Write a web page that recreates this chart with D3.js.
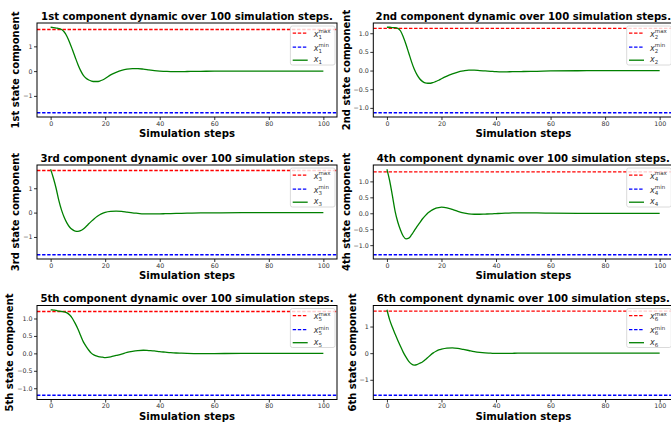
<!DOCTYPE html>
<html><head><meta charset="utf-8">
<script src="https://cdn.jsdelivr.net/npm/d3@7"></script>
<style>body{margin:0;background:#fff;overflow:hidden} svg{display:block}</style>
</head><body><svg id="c" width="671" height="424"></svg>
<script>
// ---------- data ----------
const steps = [0,1,2,3,4,5,6,7,8,9,10,11,12,13,14,15,16,17,18,19,20,
  22,24,26,28,30,32,34,36,38,40,42,44,46,48,50,55,60,70,80,90,100];
const x1 = [1.77,1.76,1.74,1.72,1.68,1.58,1.40,1.15,0.86,0.56,0.27,0.02,-0.17,-0.29,-0.36,-0.40,-0.42,-0.42,-0.40,-0.36,-0.30,
  -0.15,-0.05,0.03,0.08,0.10,0.10,0.08,0.05,0.02,0.00,-0.01,-0.02,-0.02,-0.02,-0.015,-0.01,0,0,0,0,0];
const x2 = [1.16,1.16,1.15,1.15,1.13,1.06,0.90,0.70,0.47,0.24,0.04,-0.11,-0.22,-0.29,-0.33,-0.34,-0.34,-0.32,-0.29,-0.26,-0.22,
  -0.15,-0.09,-0.04,-0.01,0.01,0.01,0.0,-0.01,-0.02,-0.03,-0.035,-0.035,-0.03,-0.03,-0.025,-0.02,-0.01,-0.005,0,0,0];
const x3 = [1.78,1.42,1.00,0.50,0.10,-0.20,-0.43,-0.60,-0.70,-0.76,-0.77,-0.74,-0.67,-0.57,-0.46,-0.35,-0.25,-0.16,-0.09,-0.03,0.01,
  0.05,0.06,0.05,0.02,-0.01,-0.03,-0.05,-0.05,-0.05,-0.05,-0.045,-0.04,-0.035,-0.03,-0.025,-0.015,-0.01,0,0,0,0];
const x4 = [1.38,1.02,0.55,0.06,-0.28,-0.53,-0.72,-0.80,-0.78,-0.68,-0.55,-0.42,-0.30,-0.18,-0.08,0.01,0.07,0.12,0.16,0.18,0.19,
  0.17,0.12,0.06,0.01,-0.02,-0.03,-0.03,-0.025,-0.02,-0.01,0.0,0.005,0.01,0.01,0.01,0.01,0.005,0,0,0,0];
const x5 = [1.25,1.24,1.23,1.21,1.20,1.19,1.16,1.10,1.00,0.86,0.70,0.51,0.33,0.20,0.09,0.0,-0.05,-0.08,-0.10,-0.11,-0.12,
  -0.10,-0.06,-0.02,0.03,0.06,0.08,0.09,0.08,0.07,0.05,0.035,0.02,0.01,0.005,0.0,-0.005,-0.005,0,0,0,0];
const x6 = [1.63,1.25,0.97,0.72,0.48,0.25,0.03,-0.15,-0.31,-0.41,-0.45,-0.43,-0.38,-0.33,-0.25,-0.16,-0.07,0.01,0.07,0.12,0.15,
  0.19,0.20,0.18,0.14,0.10,0.06,0.03,0.01,0.0,-0.01,-0.01,-0.01,-0.005,0,0,0,0,0,0,0,0];
const series = [x1,x2,x3,x4,x5,x6];
const upperBounds = [1.68,1.13,1.73,1.30,1.20,1.58];
const ordinals = ["1st","2nd","3rd","4th","5th","6th"];
const xTicks = [0,20,40,60,80,100];
const yTicksInt = [-1,0,1];
const yTicksHalf = [-1,-0.5,0,0.5,1];
const yTickSets = [yTicksInt,yTicksHalf,yTicksInt,yTicksHalf,yTicksHalf,yTicksInt];
const yTickFormats = ["d",".1f","d",".1f",".1f","d"];

// ---------- layout ----------
const lefts = [37,373.3], tops = [23,165,305.5], W = 300, H = 94;
const FONT = "DejaVu Sans";
const svg = d3.select("#c");

function fitSize(text, weight, target){
  const t = svg.append("text").attr("font-family",FONT).attr("font-weight",weight)
    .attr("font-size",10).text(text);
  const w = t.node().getComputedTextLength(); t.remove();
  return 10*target/w;
}
const titleSize = fitSize("1st component dynamic over 100 simulation steps.","bold",292);
const xlabSize = fitSize("Simulation steps","bold",96);
const ylabSize = fitSize("1st state component","bold",117);
const LW = 1.3, DASH = "3.4,1.7";

series.forEach((vals,i)=>{
  const col=i%2, row=Math.floor(i/2);
  const L=lefts[col], T=tops[row], n=i+1, b=upperBounds[i];
  const x = d3.scaleLinear().domain([-5,105]).range([L,L+W]);
  let lo=Math.min(-b,d3.min(vals)), hi=Math.max(b,d3.max(vals));
  const pad=0.05*(hi-lo);
  const y = d3.scaleLinear().domain([lo-pad,hi+pad]).range([T+H,T]);
  const g = svg.append("g");
  const cid="clip"+i;
  g.append("clipPath").attr("id",cid).append("rect").attr("x",L).attr("y",T).attr("width",W).attr("height",H);
  const pg = g.append("g").attr("clip-path",`url(#${cid})`);
  pg.append("line").attr("x1",L).attr("x2",L+W).attr("y1",y(b)).attr("y2",y(b))
    .attr("stroke","#ff0000").attr("stroke-width",LW).attr("stroke-dasharray",DASH);
  pg.append("line").attr("x1",L).attr("x2",L+W).attr("y1",y(-b)).attr("y2",y(-b))
    .attr("stroke","#0000ff").attr("stroke-width",LW).attr("stroke-dasharray",DASH);
  const line = d3.line().x((d,k)=>x(steps[k])).y(d=>y(d)).curve(d3.curveMonotoneX);
  pg.append("path").datum(vals).attr("d",line).attr("fill","none")
    .attr("stroke","#008000").attr("stroke-width",LW);

  // axes
  const ax = g.append("g").attr("transform",`translate(0,${T+H})`)
    .call(d3.axisBottom(x).tickValues(xTicks).tickSize(3).tickPadding(1.5).tickFormat(d3.format("d")));
  const ay = g.append("g").attr("transform",`translate(${L},0)`)
    .call(d3.axisLeft(y).tickValues(yTickSets[i]).tickSize(3).tickPadding(1.5).tickFormat(d3.format(yTickFormats[i])));
  [ax,ay].forEach(a=>{
    a.select(".domain").remove();
    a.selectAll("text").attr("font-family",FONT).attr("font-size",6.3).attr("fill","#333");
    a.selectAll("line").attr("stroke","#000").attr("stroke-width",0.8);
  });

  // legend
  const bw=44.6, bx=L+W-2-bw, by=T+3;
  const lg = g.append("g");
  lg.append("rect").attr("x",bx).attr("y",by).attr("width",bw).attr("height",39).attr("rx",2)
    .attr("fill","#fff").attr("fill-opacity",0.8).attr("stroke","#d0d0d0").attr("stroke-width",0.8);
  const entries=[{c:"#ff0000",sup:"max",dy:T+10.2},{c:"#0000ff",sup:"min",dy:T+24.2},{c:"#008000",sup:null,dy:T+37.2}];
  entries.forEach(e=>{
    const ln = lg.append("line").attr("x1",bx+2.3).attr("x2",bx+17.3).attr("y1",e.dy).attr("y2",e.dy)
      .attr("stroke",e.c).attr("stroke-width",LW);
    if(e.sup) ln.attr("stroke-dasharray",DASH);
    const tx=bx+23.3;
    const xb = e.sup? e.dy+3.4 : e.dy+1.8;
    lg.append("text").attr("x",tx).attr("y",xb).attr("font-family",FONT).attr("font-style","italic")
      .attr("font-size",8).attr("fill","#333").text("x");
    lg.append("text").attr("x",tx+4.8).attr("y",e.sup? e.dy+5.3 : e.dy+4).attr("font-family",FONT)
      .attr("font-size",5.5).attr("fill","#333").text(String(n));
    if(e.sup) lg.append("text").attr("x",tx+4.8).attr("y",e.dy-0.2).attr("font-family",FONT)
      .attr("font-size",5.5).attr("fill","#333").text(e.sup);
  });

  // frame
  g.append("rect").attr("x",L).attr("y",T).attr("width",W).attr("height",H)
    .attr("fill","none").attr("stroke","#000").attr("stroke-width",1);

  // texts
  g.append("text").attr("x",L+W/2).attr("y",T-3.5).attr("text-anchor","middle")
    .attr("font-family",FONT).attr("font-weight","bold").attr("font-size",titleSize)
    .text(`${ordinals[i]} component dynamic over 100 simulation steps.`);
  g.append("text").attr("x",L+W/2).attr("y",T+H+20.4).attr("text-anchor","middle")
    .attr("font-family",FONT).attr("font-weight","bold").attr("font-size",xlabSize)
    .text("Simulation steps");
  const bb = ay.node().getBBox();
  const cx = L + bb.x - 7.3, cy = T+H/2;
  g.append("text").attr("transform",`translate(${cx},${cy}) rotate(-90)`).attr("dy","0.35em")
    .attr("text-anchor","middle").attr("font-family",FONT).attr("font-weight","bold")
    .attr("font-size",ylabSize).text(`${ordinals[i]} state component`);
});
</script>
</body></html>
